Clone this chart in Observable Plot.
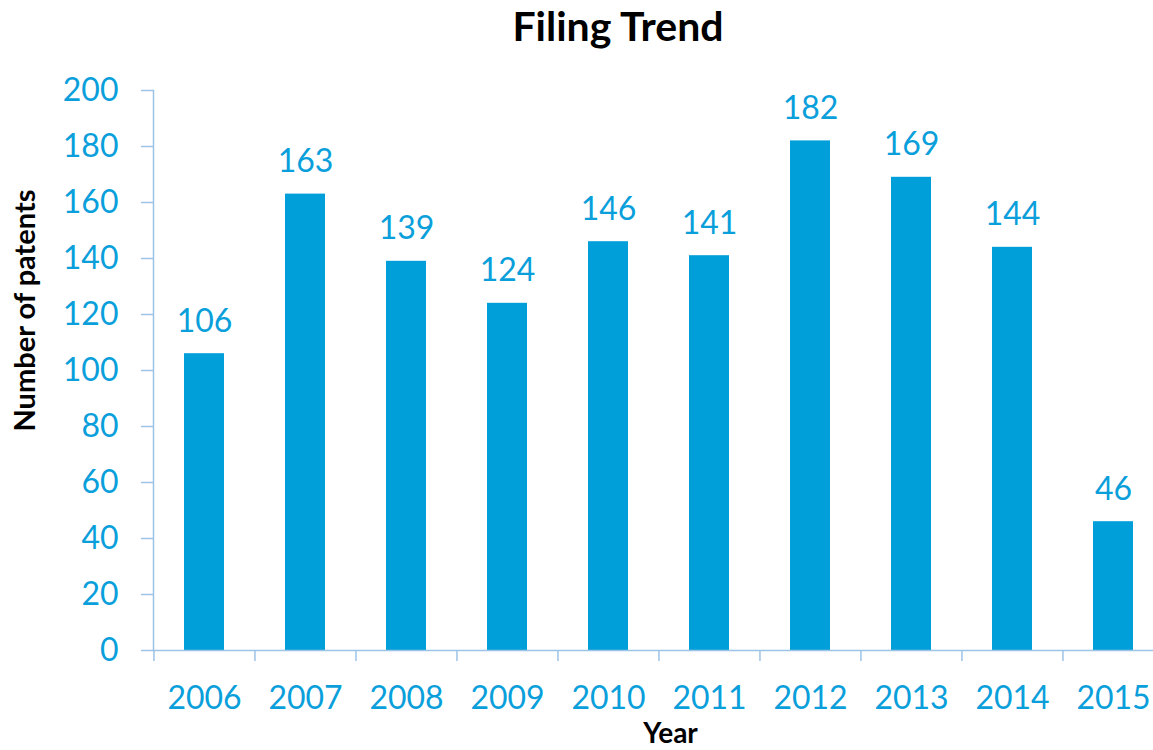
<!DOCTYPE html>
<html>
<head>
<meta charset="utf-8">
<script src="https://cdn.jsdelivr.net/npm/d3@7"></script>
<script src="https://cdn.jsdelivr.net/npm/@observablehq/plot@0.6"></script>
<style>
  html, body { margin: 0; padding: 0; background: #fff; }
  #title { width: 1153px; height: 60px; box-sizing: border-box; padding-left: 83px; text-align: center;
           font-family: Lato, "Open Sans", sans-serif; font-weight: bold; font-size: 41px; line-height: 52px; color: #000; }
  #chart svg { display: block; }
</style>
</head>
<body>
<div id="title">Filing Trend</div>
<div id="chart"></div>
<script>
const years = ["2006", "2007", "2008", "2009", "2010", "2011", "2012", "2013", "2014", "2015"];
const patents = [106, 163, 139, 124, 146, 141, 182, 169, 144, 46];
const yTicks = [0, 20, 40, 60, 80, 100, 120, 140, 160, 180, 200];
const xTitle = "Year";
const yTitle = "Number of patents";

const data = years.map((year, i) => ({year, count: patents[i]}));

const barColor = "#009FDA";
const textColor = "#0A9FDB";
const axisColor = "#9DC3E6";

const chart = Plot.plot({
  width: 1153,
  height: 690,
  marginLeft: 153,
  marginRight: 0,
  marginTop: 30,
  marginBottom: 100,
  style: {fontFamily: "Lato, 'Open Sans', sans-serif", background: "#fff", overflow: "visible"},
  x: {domain: years, range: [153, 1164], paddingInner: 0.6, paddingOuter: 0.3, label: null},
  y: {domain: [0, 200], label: null},
  marks: [
    Plot.barY(data, {x: "year", y: "count", fill: barColor}),
    Plot.text(data, {x: "year", y: "count", text: d => String(d.count), fill: textColor, fontSize: 32, lineAnchor: "bottom", dy: -22}),
    Plot.axisY({ticks: yTicks, tickSize: 12, tickPadding: 23, stroke: axisColor, fill: textColor, fontSize: 32, strokeWidth: 1.5, label: null}),
    Plot.axisX({tickSize: 11, tickFormat: () => "", dx: -50.55, stroke: axisColor, strokeWidth: 1.5, label: null}),
    Plot.axisX({tickSize: 0, tickPadding: 36, fill: textColor, fontSize: 32, label: null}),
    Plot.frame({anchor: "left", stroke: axisColor, strokeWidth: 1.5}),
    Plot.ruleY([0], {stroke: axisColor, strokeWidth: 1.5}),
    Plot.text([xTitle], {frameAnchor: "bottom", text: d => d, dx: 17, dy: 84, lineAnchor: "middle", textAnchor: "middle", fontWeight: "bold", fontSize: 28, fill: "#000"}),
    Plot.text([yTitle], {frameAnchor: "left", text: d => d, dx: -128, dy: -60, rotate: -90, lineAnchor: "middle", textAnchor: "middle", fontWeight: "bold", fontSize: 29, fill: "#000"})
  ]
});
document.getElementById("chart").appendChild(chart);
</script>
</body>
</html>
